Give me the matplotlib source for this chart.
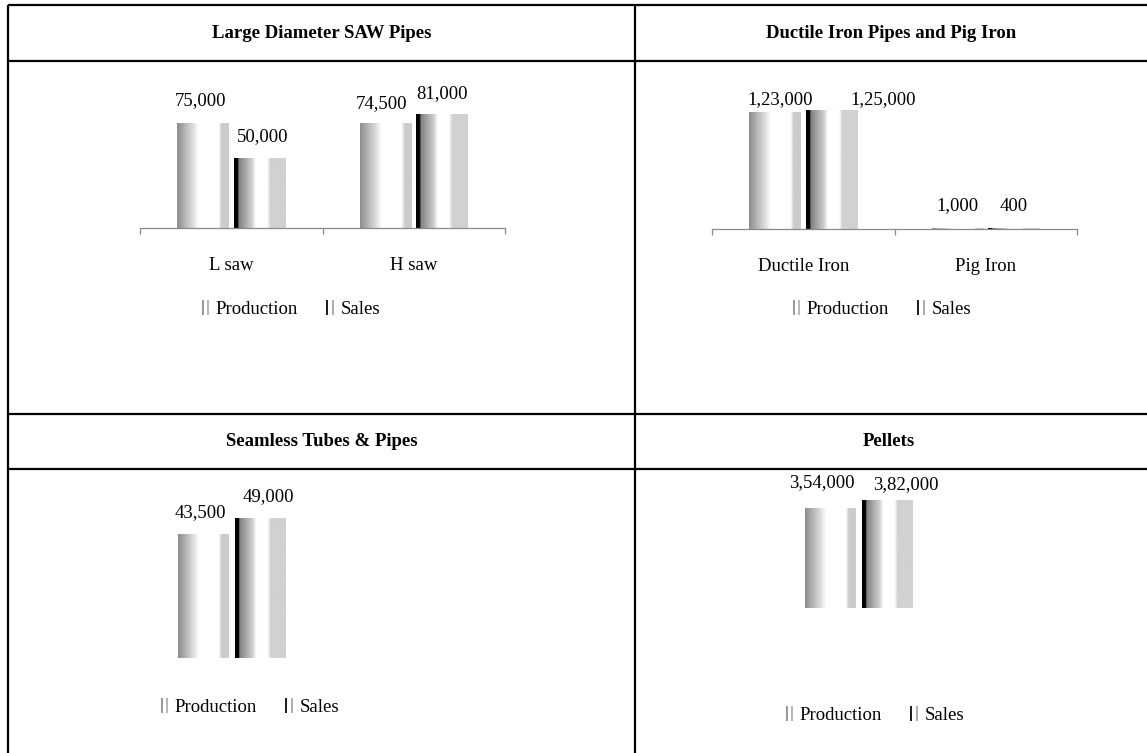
import numpy as np
import matplotlib
matplotlib.use('Agg')
import matplotlib.pyplot as plt
from matplotlib.patches import Rectangle
from matplotlib.legend_handler import HandlerBase

# ---------------- data ----------------
saw_categories = ['L saw', 'H saw']
saw_production = [75000, 74500]
saw_sales = [50000, 81000]

di_categories = ['Ductile Iron', 'Pig Iron']
di_production = [123000, 1000]
di_sales = [125000, 400]

seamless_categories = ['']
seamless_production = [43500]
seamless_sales = [49000]

pellets_categories = ['']
pellets_production = [354000]
pellets_sales = [382000]

titles = ['Large Diameter SAW Pipes', 'Ductile Iron Pipes and Pig Iron',
          'Seamless Tubes & Pipes', 'Pellets']
series_names = ['Production', 'Sales']

# ---------------- style ----------------
W, H = 1147, 753
FONT = 'Liberation Serif'
plt.rcParams['font.family'] = [FONT, 'DejaVu Serif']
FS = 13.5

fig = plt.figure(figsize=(W / 100, H / 100), dpi=100)
fig.patch.set_facecolor('white')


def indian(n):
    s = str(int(n))
    if len(s) <= 3:
        return s
    last3, rest = s[-3:], s[:-3]
    groups = []
    while len(rest) > 2:
        groups.insert(0, rest[-2:])
        rest = rest[:-2]
    if rest:
        groups.insert(0, rest)
    return ','.join(groups + [last3])


def ax_at(l, t, r, b):
    return fig.add_axes([l / W, 1 - b / H, (r - l) / W, (b - t) / H])


prod_stops = ([0, 0.3, 0.42, 0.8, 0.86, 1], [0.55, 0.86, 1, 1, 0.8, 0.8])
sales_stops = ([0, 0.07, 0.09, 0.35, 0.42, 0.64, 0.7, 1],
               [0.0, 0.0, 0.5, 0.82, 1, 1, 0.82, 0.82])


def grad(stops):
    t = np.linspace(0, 1, 200)
    return np.interp(t, *stops)[None, :]


def gradient_bars(ax, bars, stops):
    g = grad(stops)
    for b in bars:
        x, y = b.get_x(), b.get_y()
        w, h = b.get_width(), b.get_height()
        b.set_facecolor('none')
        b.set_edgecolor('none')
        ax.imshow(g, extent=[x, x + w, y, y + h], aspect='auto', cmap='gray',
                  vmin=0, vmax=1, interpolation='bilinear', zorder=2)


class StripeHandler(HandlerBase):
    def __init__(self, kind):
        super().__init__()
        self.kind = kind

    def create_artists(self, legend, orig_handle, xdescent, ydescent,
                       width, height, fontsize, trans):
        arts = []
        if self.kind == 'prod':
            specs = [(0.0, 0.3, '#9a9a9a'), (0.65, 0.2, '#b8b8b8')]
        else:
            specs = [(0.0, 0.2, '#202020'), (0.6, 0.25, '#b0b0b0')]
        for x0, w, c in specs:
            r = Rectangle((-xdescent + x0 * width, -ydescent - 0.1 * height),
                          w * width, 1.1 * height, facecolor=c,
                          edgecolor='none', transform=trans)
            arts.append(r)
        return arts


def add_legend(ax, cx, cy):
    hp = Rectangle((0, 0), 1, 1)
    hs = Rectangle((0, 0), 1, 1)
    ax.legend([hp, hs], series_names, loc='center',
              bbox_to_anchor=(cx / W, 1 - cy / H),
              bbox_transform=fig.transFigure, ncol=2, frameon=False,
              handlelength=0.45, handleheight=0.75, handletextpad=0.3,
              columnspacing=1.5, prop={'family': FONT, 'size': FS},
              handler_map={hp: StripeHandler('prod'), hs: StripeHandler('sales')})


def panel(box, cats, prod, sales, ymax, label_offsets, legend_pos, axis_line):
    ax = ax_at(*box)
    x = np.arange(len(cats))
    width, off = 0.28, 0.155
    bp = ax.bar(x - off, prod, width, zorder=2)
    bs = ax.bar(x + off, sales, width, zorder=2)
    gradient_bars(ax, bp, prod_stops)
    gradient_bars(ax, bs, sales_stops)
    ax.set_xlim(-0.5, len(cats) - 0.5)
    ax.set_ylim(0, ymax)
    for s in ['top', 'right', 'left']:
        ax.spines[s].set_visible(False)
    ax.set_yticks([])
    if axis_line:
        ax.spines['bottom'].set_color('#8a8a8a')
        ax.spines['bottom'].set_linewidth(0.9)
        ax.set_xticks(x, cats)
        ax.tick_params(axis='x', which='major', length=0, pad=21,
                       labelsize=FS)
        ax.set_xticks(np.arange(len(cats) + 1) - 0.5, minor=True)
        ax.tick_params(axis='x', which='minor', length=4, color='#8a8a8a',
                       width=0.9, direction='out')
    else:
        ax.spines['bottom'].set_visible(False)
        ax.set_xticks([])
    items = []
    for i in range(len(cats)):
        items.append((x[i] - off, prod[i]))
    for i in range(len(cats)):
        items.append((x[i] + off, sales[i]))
    for (xx, v), (dx, dy) in zip(items, label_offsets):
        ax.annotate(indian(v), (xx, v), xytext=(dx, dy),
                    textcoords='offset pixels', ha='center', va='center',
                    fontsize=FS, annotation_clip=False, zorder=3)
    add_legend(ax, *legend_pos)
    return ax


# label offsets in pixels (dx, dy) : production first, then sales
panel((140, 102, 505, 228), saw_categories, saw_production, saw_sales, 90000,
      [(-2, 22), (-4, 20), (3, 21), (0, 21)], (291, 309), True)
panel((712, 96, 1077, 229), di_categories, di_production, di_sales, 140000,
      [(5, 13), (0, 22), (52, 11), (0, 22)], (882, 309), True)
panel((141, 487, 323, 658), seamless_categories, seamless_production,
      seamless_sales, 60000, [(-3, 21), (8, 22)], (250, 707), False)
panel((768, 481, 950, 608), pellets_categories, pellets_production,
      pellets_sales, 450000, [(-9, 25), (19, 16)], (875, 715), False)

# ---------------- table frame ----------------
ov = fig.add_axes([0, 0, 1, 1], zorder=-1)
ov.set_xlim(0, W)
ov.set_ylim(H, 0)
ov.axis('off')
lw = 1.6
for yy in (5, 61, 414, 469):
    ov.plot([8, W], [yy, yy], color='black', lw=lw, solid_capstyle='butt')
for xx in (8, 635):
    ov.plot([xx, xx], [5, H], color='black', lw=lw, solid_capstyle='butt')

header_pos = [(322, 33), (891, 33), (322, 441), (889, 441)]
for t, (hx, hy) in zip(titles, header_pos):
    ov.text(hx, hy, t, ha='center', va='center', fontsize=FS,
            fontweight='bold', family=FONT)

fig.savefig('out.png', dpi=100, facecolor='white')
